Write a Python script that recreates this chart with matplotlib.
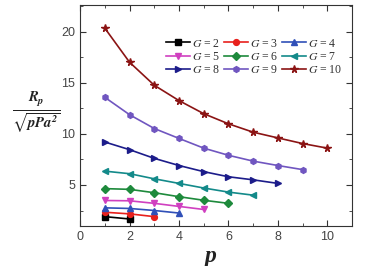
import matplotlib
matplotlib.use("Agg")
import matplotlib.pyplot as plt
from matplotlib.ticker import MultipleLocator

# datos: R_p / sqrt(p P a^2) vs p para cada G
G_vals = [2, 3, 4, 5, 6, 7, 8, 9, 10]
R_G2 = [1.90, 1.67]
R_G3 = [2.33, 2.17, 1.90]
R_G4 = [2.76, 2.70, 2.50, 2.25]
R_G5 = [3.48, 3.45, 3.20, 2.90, 2.60]
R_G6 = [4.64, 4.57, 4.24, 3.85, 3.50, 3.20]
R_G7 = [6.35, 6.10, 5.60, 5.15, 4.70, 4.30, 4.00]
R_G8 = [9.20, 8.45, 7.60, 6.90, 6.30, 5.80, 5.50, 5.15]
R_G9 = [13.57, 11.87, 10.52, 9.55, 8.60, 7.90, 7.33, 6.90, 6.50]
R_G10 = [20.33, 17.00, 14.75, 13.25, 11.97, 10.98, 10.16, 9.60, 9.05, 8.60]
series = [R_G2, R_G3, R_G4, R_G5, R_G6, R_G7, R_G8, R_G9, R_G10]

colores = ['#000000', '#e8201c', '#3050b8', '#d040c0', '#1e8a3c',
           '#138a8a', '#1c1c8a', '#7056c0', '#8b1414']
marcadores = ['s', 'o', '^', 'v', 'D', '<', '>', 'h', '*']

plt.rcParams['mathtext.fontset'] = 'stix'

fig = plt.figure(figsize=(3.66, 2.66), dpi=100)
ax = fig.add_axes([0.219, 0.151, 0.743, 0.83])

lineas = []
for g, r, c, m in zip(G_vals, series, colores, marcadores):
    p = list(range(1, len(r) + 1))
    ms = 5.5 if m == '*' else 4.2
    l, = ax.plot(p, r, color=c, marker=m, markersize=ms, linewidth=1.2,
                 label='$G$ = %d' % g)
    lineas.append(l)

ax.set_xlim(0, 11)
ax.set_ylim(1, 22.6)
ax.xaxis.set_major_locator(MultipleLocator(2))
ax.xaxis.set_minor_locator(MultipleLocator(1))
ax.yaxis.set_major_locator(MultipleLocator(5))
ax.yaxis.set_minor_locator(MultipleLocator(2.5))
ax.tick_params(which='both', direction='in', top=True, right=True,
               labelsize=9, colors='#333333', labelcolor='#444444')
ax.tick_params(which='major', length=4)
ax.tick_params(which='minor', length=2)
for t in ax.get_xticklabels() + ax.get_yticklabels():
    t.set_family('Liberation Sans')
for s in ax.spines.values():
    s.set_color('#333333')

# legend por filas (G=2, 3, 4 en la primera)
orden = [0, 3, 6, 1, 4, 7, 2, 5, 8]
leg = ax.legend([lineas[i] for i in orden], [lineas[i].get_label() for i in orden],
                ncol=3, frameon=False, loc='upper right',
                bbox_to_anchor=(0.99, 0.885), fontsize=8.5, handlelength=2.0,
                handletextpad=0.2, columnspacing=0.3, labelspacing=0.12,
                borderaxespad=0.2)
for t in leg.get_texts():
    t.set_family('Liberation Serif')
    t.set_color('#333333')

fig.text(0.575, 0.035, 'p', ha='center', va='center', fontsize=17,
         family='Liberation Serif', style='italic', weight='bold', color='#222222')
fig.text(0.1, 0.58, r'$\frac{\mathbfit{R_p}}{\sqrt{\mathbfit{pPa^2}}}$',
         ha='center', va='center', fontsize=15, color='#222222')

fig.savefig('out.png', dpi=100)
